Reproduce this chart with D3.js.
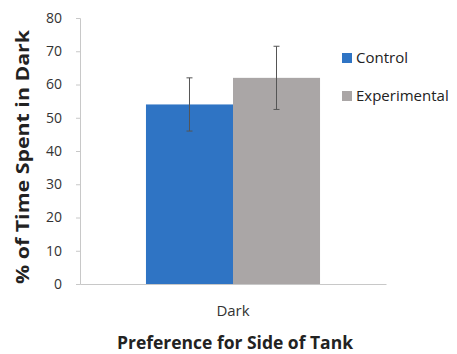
<!DOCTYPE html>
<html><head><meta charset="utf-8">
<script src="https://cdn.jsdelivr.net/npm/d3@7"></script>
<style>body{margin:0;background:#fff}svg{display:block}</style>
</head><body>
<script>
const categories = ["Dark"];
const seriesNames = ["Control", "Experimental"];
const means = [54, 62];
const errors = [8, 9.5];
const yTicks = [0, 10, 20, 30, 40, 50, 60, 70, 80];
const colors = ["#2f74c4", "#aaa6a6"];

const W = 457, H = 354;
const svg = d3.select("body").append("svg").attr("width", W).attr("height", H);
const font = "'Open Sans', sans-serif";

const y = d3.scaleLinear().domain([0, 80]).range([284, 18]);
const x0 = d3.scaleBand().domain(categories).range([80, 386]).paddingInner(0).paddingOuter(0.379);
const x1 = d3.scaleBand().domain(seriesNames).range([0, x0.bandwidth()]).padding(0);

// axes
const yAxis = svg.append("g").attr("transform", "translate(80,0)")
  .call(d3.axisLeft(y).tickValues(yTicks).tickSize(4).tickPadding(14));
yAxis.select(".domain").attr("stroke", "#c8c8c8");
yAxis.selectAll(".tick line").attr("stroke", "#c8c8c8");
yAxis.selectAll("text").attr("font-family", font).attr("font-size", 14).attr("fill", "#333");

const xAxis = svg.append("g").attr("transform", "translate(0,284)")
  .call(d3.axisBottom(x0).tickSize(0).tickPadding(21));
xAxis.select(".domain").attr("stroke", "#c8c8c8");
xAxis.selectAll("text").attr("font-family", font).attr("font-size", 15).attr("fill", "#333");

// bars
const g = svg.append("g");
categories.forEach(c => {
  seriesNames.forEach((s, i) => {
    const bx = x0(c) + x1(s);
    g.append("rect").attr("x", bx).attr("y", y(means[i]))
      .attr("width", x1.bandwidth()).attr("height", y(0) - y(means[i]))
      .attr("fill", colors[i]);
    const cx = bx + x1.bandwidth() / 2;
    g.append("line").attr("x1", cx).attr("x2", cx)
      .attr("y1", y(means[i] + errors[i])).attr("y2", y(means[i] - errors[i]))
      .attr("stroke", "#555").attr("stroke-width", 1);
    [means[i] + errors[i], means[i] - errors[i]].forEach(v => {
      g.append("line").attr("x1", cx - 3).attr("x2", cx + 3)
        .attr("y1", y(v)).attr("y2", y(v)).attr("stroke", "#555").attr("stroke-width", 1);
    });
  });
});

// legend
const leg = svg.append("g");
seriesNames.forEach((s, i) => {
  const ly = 58 + i * 38;
  leg.append("rect").attr("x", 342).attr("y", ly - 5).attr("width", 10).attr("height", 10).attr("fill", colors[i]);
  leg.append("text").attr("x", 356).attr("y", ly + 5).text(s)
    .attr("font-family", font).attr("font-size", 15).attr("fill", "#222");
});

// axis titles
svg.append("text").attr("transform", "translate(29,157) rotate(-90)")
  .attr("text-anchor", "middle").attr("font-family", font).attr("font-weight", "bold")
  .attr("font-size", 18).attr("fill", "#222").attr("textLength", 254).attr("lengthAdjust", "spacingAndGlyphs")
  .text("% of Time Spent in Dark");
svg.append("text").attr("x", 235).attr("y", 349)
  .attr("text-anchor", "middle").attr("font-family", font).attr("font-weight", "bold")
  .attr("font-size", 17.5).attr("fill", "#222").attr("textLength", 236).attr("lengthAdjust", "spacingAndGlyphs")
  .text("Preference for Side of Tank");
</script>
</body></html>
